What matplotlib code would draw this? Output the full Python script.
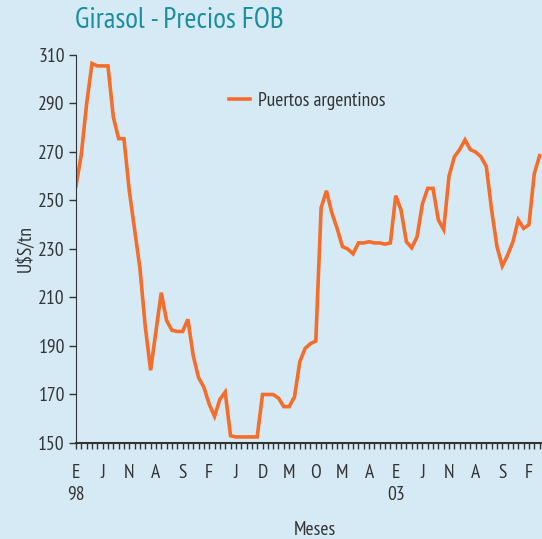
import numpy as np
import matplotlib
matplotlib.use("Agg")
import matplotlib.pyplot as plt
from matplotlib import font_manager
from matplotlib.ticker import MultipleLocator

# look for a narrow sans face, the reference uses a condensed font
def rank(f):
    r = 5
    if "Narrow" in f.name:
        r = 0
    elif f.stretch in ("condensed", "extra-condensed"):
        r = 1
    elif "Condensed" in f.name:
        r = 2
    elif f.stretch == "semi-condensed":
        r = 3
    if "Sans" not in f.name:
        r += 0.5
    return r

narrow = None
for f in font_manager.fontManager.ttflist:
    if f.style != "normal" or f.weight not in (400, "normal", "regular"):
        continue
    if rank(f) < 5 and (narrow is None or rank(f) < rank(narrow)):
        narrow = f
if narrow is not None:
    plt.rcParams['font.family'] = [narrow.name, 'DejaVu Sans']
    plt.rcParams['font.stretch'] = narrow.stretch
    fs = 14
    fs_title = 21
else:
    plt.rcParams['font.family'] = ['Liberation Sans', 'DejaVu Sans']
    fs = 11.5
    fs_title = 18

# monthly FOB price, Jan 1998 - Apr 2005
precios = [256, 269, 290, 306.5, 305.5, 305.5, 305.5, 284.5, 275.5, 275.5,
           254, 238, 222, 198, 180, 196, 212, 200.5, 196.5, 196,
           196, 201, 186, 177, 173, 166, 161, 168, 171, 153,
           152.5, 152.5, 152.5, 152.5, 152.5, 170, 170, 170, 168.5, 165,
           165, 169, 183.5, 189, 191, 192, 247, 254, 245, 238.5,
           231, 230, 228, 232.5, 232.5, 233, 232.5, 232.5, 232, 232.5,
           252, 246, 233, 230.5, 235, 248.5, 255, 255, 242, 238,
           260, 268, 271, 275, 271, 270, 268, 264, 246, 231,
           223, 227.5, 233, 242, 238.5, 240, 261, 268.5]
meses = ["E", "J", "N", "A", "S", "F", "J", "D", "M", "O",
         "M", "A", "E", "J", "N", "A", "S", "F"]
anios = {0: "98", 12: "03"}
yticks = [150, 170, 190, 210, 230, 250, 270, 290, 310]

bg = "#d6eaf5"
naranja = "#f46d2a"
texto = "#333333"

fig = plt.figure(figsize=(5.42, 5.39), dpi=100, facecolor=bg)
ax = fig.add_axes([76 / 542, 96 / 539, 466 / 542, 388 / 539], facecolor=bg)

xx = np.arange(len(precios))
ax.plot(xx, precios, color=naranja, lw=2.6, solid_joinstyle="miter",
        label="Puertos argentinos")

ax.set_xlim(0, 87.45)
ax.set_ylim(150, 310)
ax.set_yticks(yticks)
ax.set_yticklabels([str(v) for v in yticks], fontsize=fs, color=texto)

labels = []
for k, m in enumerate(meses):
    labels.append(m + "\n" + anios.get(k, ""))
ax.set_xticks(np.arange(0, 5 * len(meses), 5))
ax.set_xticklabels(labels, fontsize=fs, color=texto, linespacing=1.3)
ax.xaxis.set_minor_locator(MultipleLocator(1))
ax.tick_params(axis="x", which="both", length=4, width=1, color="#333333", pad=11)
ax.tick_params(axis="y", length=5, width=1, color="#333333", pad=3)

for s in ["top", "right"]:
    ax.spines[s].set_visible(False)
ax.spines["left"].set_color("#333333")
ax.spines["bottom"].set_color("#333333")
ax.spines["bottom"].set_linewidth(1.5)

ax.set_ylabel("U$S/tn", fontsize=fs, color=texto, labelpad=3)
ax.set_xlabel("Meses", fontsize=fs, color=texto)
ax.xaxis.set_label_coords(0.513, -0.2)

ax.legend(loc="upper left", bbox_to_anchor=(0.29, 0.95), frameon=False,
          fontsize=fs, handlelength=1.1, handletextpad=0.4,
          labelcolor=texto)

fig.text(75 / 542, 1 - 20 / 539, "Girasol - Precios FOB", fontsize=fs_title,
         color="#1a8e9c", va="center", ha="left")

fig.savefig("out.png", dpi=100, facecolor=bg)
